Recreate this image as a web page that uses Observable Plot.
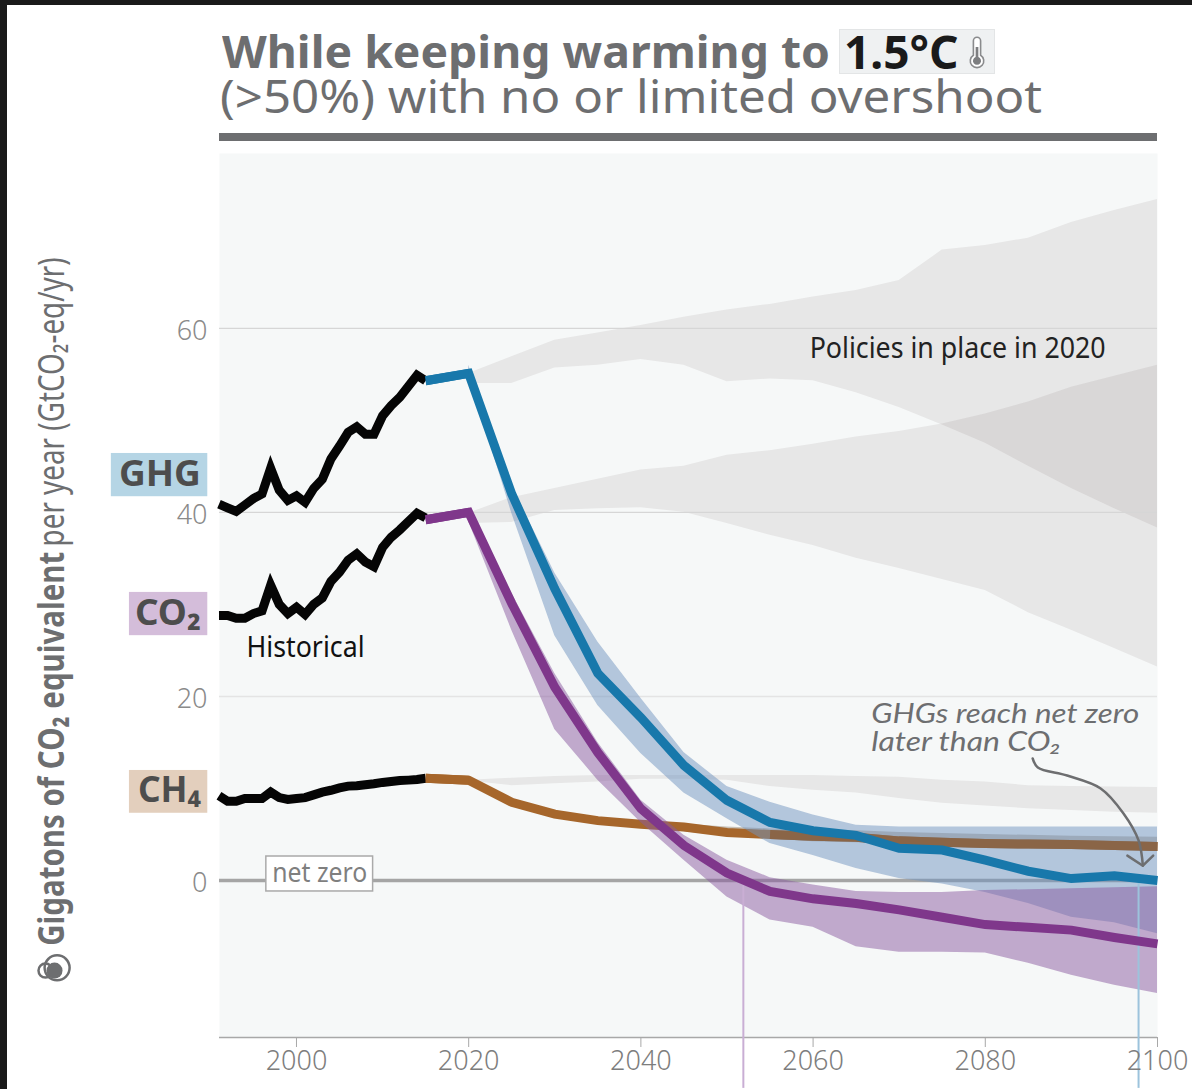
<!DOCTYPE html>
<html><head><meta charset="utf-8">
<script src="https://cdn.jsdelivr.net/npm/d3@7"></script>
<script src="https://cdn.jsdelivr.net/npm/@observablehq/plot@0.6"></script>
<style>
html,body{margin:0;padding:0;background:#fff;width:1192px;height:1089px;overflow:hidden}
#chart{position:absolute;left:0;top:0}
.strip{position:absolute;background:#1a1a1a}
.t{position:absolute;white-space:nowrap;font-family:"Noto Sans",sans-serif;color:#6d6e70;line-height:44px;transform-origin:left center}
#chip{position:absolute;left:839px;top:29px;width:156px;height:45px;background:#eff1f2;box-sizing:border-box;border:1px solid #e3e5e6}
#bar{position:absolute;left:219px;top:133px;width:938px;height:8px;background:#6d6e70}
</style></head><body>
<div id="chart"></div>
<div class="strip" style="left:0;top:0;width:1192px;height:5px"></div>
<div class="strip" style="left:0;top:0;width:7px;height:1089px"></div>
<div id="chip"></div>
<div class="t" style="left:222px;top:29px;font-size:44px;font-weight:700;transform:scaleX(1.052)">While keeping warming to</div>
<div class="t" style="left:844px;top:29px;font-size:46px;font-weight:700;color:#1a1a1a">1.5°C</div>
<svg style="position:absolute;left:968px;top:36px" width="18" height="33" viewBox="0 0 20 36">
<path d="M6 5a4 4 0 0 1 8 0v16a7.5 7.5 0 1 1-8 0z" fill="#fff" stroke="#8a8b8d" stroke-width="1.8"/>
<path d="M8.5 12h3v11a4.5 4.5 0 1 1-3 0z" fill="#7d7e80"/></svg>
<div class="t" style="left:220px;top:74px;font-size:45px;transform:scaleX(1.094)">(&gt;50%) with no or limited overshoot</div>
<div id="bar"></div>
<script>
const histYears = d3.range(1991, 2016);
const histGHG = [40.9,40.5,40.1,40.8,41.5,42,44.8,42.4,41.3,41.8,41.1,42.6,43.6,45.8,47.2,48.7,49.3,48.5,48.5,50.5,51.6,52.5,53.7,54.9,54.3];
const histCO2 = [28.8,28.8,28.5,28.5,29,29.3,32.1,30,29,29.7,28.9,30,30.7,32.5,33.5,34.8,35.5,34.6,34.1,36.2,37.3,38.1,39,39.9,39.4];
const histCH4 = [9.2,8.6,8.6,8.9,8.9,8.9,9.6,9,8.8,8.9,9,9.3,9.6,9.8,10.05,10.25,10.3,10.4,10.5,10.65,10.75,10.85,10.9,10.97,11.1];

const lineYears = [2015,2020,2025,2030,2035,2040,2045,2050,2055,2060,2065,2070,2075,2080,2085,2090,2095,2100];
const ghgLine = [54.3,55.1,42,31.7,22.5,17.7,12.5,8.7,6.3,5.4,4.9,3.5,3.3,2.2,1.0,0.2,0.5,0];
const co2Line = [39.2,40,30.1,21,13.9,7.8,3.8,0.8,-1.2,-2,-2.5,-3.2,-4,-4.8,-5.1,-5.4,-6.2,-6.9];
const ch4Line = [11.1,10.9,8.5,7.2,6.5,6.1,5.8,5.2,5,4.8,4.7,4.3,4.15,4,3.95,3.9,3.8,3.7];

const bandYears = lineYears.slice(1);
const ghgUp = [56,42.9,33.4,25.9,19.8,13.9,10.2,8.5,7.1,6,5.8,5.8,5.8,5.8,5.8,5.8,5.8];
const ghgLow = [55,39.9,26.6,19,13.8,9.5,6.7,4,2.7,1.3,0.2,-0.4,-1.3,-2.5,-4,-4.6,-5.8];
const co2Up = [40.5,31.2,22.5,15,8.7,4.9,2.2,0.3,-0.5,-1.2,-1.3,-1.3,-1.1,-1,-0.9,-0.8,-0.7];
const co2Low = [39,27.2,16.4,10.9,6.3,2.2,-1.8,-4.3,-5.1,-7.2,-7.8,-7.8,-7.9,-9,-10.3,-11.4,-12.3];
const ch4Up = [11,8.7,7.4,6.8,6.4,6.1,5.8,5.6,5.5,5.4,5.2,5.1,5,4.9,4.8,4.75,4.7];
const ch4Low = [10.8,8.3,7,6.2,5.7,5.3,4.8,4.5,4.2,4.1,4,3.8,3.6,3.5,3.4,3.35,3.3];

const polGhgUp = [55.1,56.9,58.7,59.5,60.3,61.2,62,62.6,63.4,64.1,65.2,68.5,69,69.8,71.5,72.8,74];
const polGhgLow = [54,54,55.7,56,56.6,56,54.2,54.5,54.3,53,51.4,49.5,47.5,45,42.6,40.4,38.3];
const polCo2Up = [39.9,41.6,42.6,43.6,44.6,45,46.2,46.7,47.4,48.2,48.8,49.6,50.7,52,53.6,54.8,56];
const polCo2Low = [38.8,38.9,40.2,40.4,40.5,40,38.8,37.5,36.4,35,33.9,32.7,31.5,29.1,27.2,25.2,23.2];
const polCh4Up = [10.9,11.1,11.3,11.4,11.4,11.4,11.4,11.4,11.4,11.3,11.2,10.9,10.7,10.3,10.2,10.15,10.1];
const polCh4Low = [10.8,10.3,10.5,10.7,11,11,10.9,10.2,9.8,9.5,8.9,8.4,8.1,7.8,7.6,7.4,7.3];

const xTicks = [2000,2020,2040,2060,2080,2100];
const yTicks = [0,20,40,60];
const arrowYears = [2085.5,2086.1,2089.5,2093.4,2096.05,2097.8,2098.3];
const arrowValues = [13.26,12.28,11.4,10,7.28,4.35,1.6];
const headYears = [2096.5,2098.3,2099.5];
const headValues = [2.7,1.6,2.7];

const YEAR0 = 1991.06, YEAR1 = 2100, BOTTOM = -17.07, TOP = 79;
const band = (xs, lo, up, fill, opacity) => Plot.areaY(xs, {x: d => d, y1: (d,i) => lo[i], y2: (d,i) => up[i], fill, fillOpacity: opacity});
const line = (xs, ys, stroke, w) => Plot.line(xs, {x: d => d, y: (d,i) => ys[i], stroke, strokeWidth: w, strokeLinejoin: "miter", strokeLinecap: "butt", strokeMiterlimit: 6});
const HF = '"Noto Sans",sans-serif';
const label = (txt, xa, xb, ya, yb, fill, cls) => [
  Plot.rect([txt], {x1: xa, x2: xb, y1: ya, y2: yb, fill}),
  Plot.text([txt], {x: xb - 0.8, y: (ya + yb) / 2, dy: -1, text: d => d, textAnchor: "end", fontFamily: HF, fontWeight: 700, fontSize: 36, fill: "#4d4d4d", className: cls})
];

const plot = Plot.plot({
  width: 1192, height: 1089, marginLeft: 219, marginRight: 35, marginTop: 153, marginBottom: 52,
  style: {background: "transparent", fontFamily: HF, overflow: "visible"},
  x: {domain: [YEAR0, YEAR1], axis: null},
  y: {domain: [BOTTOM, TOP], axis: null},
  marks: [
    Plot.frame({fill: "#f6f8f8", stroke: null}),
    band(bandYears, polGhgLow, polGhgUp, "#3a2020", 0.08),
    band(bandYears, polCo2Low, polCo2Up, "#3a2020", 0.08),
    band(bandYears, polCh4Low, polCh4Up, "#3a2020", 0.08),
    Plot.ruleY([40, 60], {stroke: "#d6d6d6", strokeWidth: 1.2}),
    Plot.ruleY([20], {stroke: "#e4e4e4", strokeWidth: 1.5}),
    Plot.ruleY([0], {stroke: "#a5a5a5", strokeWidth: 3.5}),
    Plot.ruleY([BOTTOM], {stroke: "#a8a8a8", strokeWidth: 1.5}),
    band(bandYears, ch4Low, ch4Up, "#9a8a76", 0.5),
    line(lineYears, ch4Line, "#a6662b", 9),
    band(bandYears, ghgLow, ghgUp, "#6f93c0", 0.5),
    band(bandYears, co2Low, co2Up, "#8a5a9f", 0.5),
    line(lineYears.slice(8), ch4Line.slice(8), "#8a6547", 9),
    Plot.ruleX([2051.9], {y1: 0, y2: -22.6, stroke: "#c9aed4", strokeWidth: 2}),
    Plot.ruleX([2097.8], {y1: 0, y2: -22.6, stroke: "#9cc3dc", strokeWidth: 2}),
    line(lineYears, co2Line, "#7f378b", 9),
    line(lineYears, ghgLine, "#1878ab", 9),
    line(histYears, histGHG, "#050505", 9),
    line(histYears, histCO2, "#050505", 9),
    line(histYears, histCH4, "#050505", 9),
    line(lineYears.slice(0,2), ghgLine.slice(0,2), "#1878ab", 9),
    line(lineYears.slice(0,2), co2Line.slice(0,2), "#7f378b", 9),
    line(lineYears.slice(0,2), ch4Line.slice(0,2), "#a6662b", 9),
    Plot.axisX({ticks: xTicks, tickFormat: d => String(d), tickSize: 10, tickPadding: 3, fontSize: 27, fontFamily: HF, fontWeight: 300, stroke: "#a8a8a8", fill: "#7d7d7d", anchor: "bottom", label: null}),
    Plot.axisY({ticks: yTicks, tickFormat: d => String(d), tickSize: 0, tickPadding: 12, fontSize: 27, fontFamily: HF, fontWeight: 300, fill: "#8a8a8a", anchor: "left", label: null, dy: 3}),
    ...label("GHG", 1978.5, 1989.7, 46.4, 41.7, "#b5d5e5", "fit-ghg"),
    ...label("CO₂", 1980.6, 1989.7, 31.3, 26.6, "#d4bdda", "fit-co2"),
    ...label("CH₄", 1980.6, 1989.7, 11.95, 7.3, "#e3cfbd", "fit-ch4"),
    Plot.rect(["net zero"], {x1: 1996.5, x2: 2008.9, y1: 2.6, y2: -1.2, fill: "#fff", stroke: "#aaa", strokeWidth: 1.5}),
    Plot.text(["net zero"], {x: 2002.7, y: 0.8, text: d => d, fontFamily: HF, fontSize: 27, fill: "#7f7f7f", className: "fit-netzero"}),
    Plot.text(["Historical"], {x: 1994.2, y: 25.3, text: d => d, textAnchor: "start", fontFamily: HF, fontSize: 29, fill: "#111", className: "fit-hist"}),
    Plot.text(["Policies in place in 2020"], {x: 2059.6, y: 57.8, text: d => d, textAnchor: "start", fontFamily: HF, fontSize: 29, fill: "#222", className: "fit-pol"}),
    Plot.text(["GHGs reach net zero"], {x: 2066.75, y: 18.1, text: d => d, textAnchor: "start", fontFamily: "Lato", fontStyle: "italic", fontSize: 27, fill: "#6d6e70", className: "fit-ann1"}),
    Plot.text(["later than CO₂"], {x: 2066.75, y: 15.05, text: d => d, textAnchor: "start", fontFamily: "Lato", fontStyle: "italic", fontSize: 27, fill: "#6d6e70", className: "fit-ann2"}),
    Plot.line(arrowYears, {x: d => d, y: (d,i) => arrowValues[i], stroke: "#6d6e70", strokeWidth: 2.5, curve: "catmull-rom"}),
    Plot.line(headYears, {x: d => d, y: (d,i) => headValues[i], stroke: "#6d6e70", strokeWidth: 2.5}),
    Plot.text(["Gigatons of CO₂ equivalent"], {x: 1971.65, y: -7.1, rotate: -90, text: d => d, textAnchor: "start", fontFamily: HF, fontWeight: 700, fontSize: 36, fill: "#6d6e70", className: "fit-yb"}),
    Plot.text(["per year (GtCO₂-eq/yr)"], {x: 1971.65, y: 36.3, rotate: -90, text: d => d, textAnchor: "start", fontFamily: HF, fontSize: 36, fill: "#6d6e70", className: "fit-yn"}),
    Plot.dot([1], {x: 1970.85, y: -9.8, r: 7, fill: "#fff", stroke: "#6d6e70", strokeWidth: 2.5}),
    Plot.dot([2], {x: 1972.2, y: -9.5, r: 12.5, fill: "none", stroke: "#6d6e70", strokeWidth: 2.5}),
    Plot.dot([3], {x: 1971.9, y: -9.8, r: 8, fill: "#6d6e70"})
  ]
});
document.getElementById("chart").append(plot);
const fit = {"fit-ghg": 82, "fit-co2": 66, "fit-ch4": 63, "fit-netzero": 95, "fit-hist": 118, "fit-pol": 296, "fit-ann1": 268, "fit-ann2": 190, "fit-yb": 394, "fit-yn": 289};
for (const [c, w] of Object.entries(fit)) {
  plot.querySelectorAll("." + c + " text").forEach(t => { t.setAttribute("textLength", w); t.setAttribute("lengthAdjust", "spacingAndGlyphs"); });
}
</script>
</body></html>
